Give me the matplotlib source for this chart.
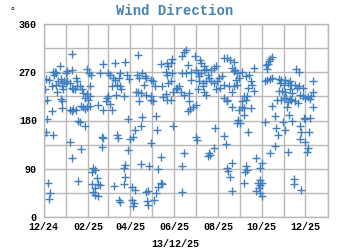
import numpy as np
import matplotlib
matplotlib.use('Agg')
import matplotlib.pyplot as plt
import matplotlib.dates as mdates

# days since 2024-12-01 and wind direction (degrees)
start = np.datetime64('2024-12-01')

days_dec_feb = [40, 83, 23, 61, 63, 66, 40, 33, 31, 13, 15, 17, 14, 79, 90, 93, 96, 3, 8, 24,
                20, 25, 28, 31, 32, 26, 27, 36, 39, 41, 45, 46, 47, 50, 53, 44, 11, 17, 19, 2,
                0, 4, 24, 26, 25, 11, 5, 55, 60, 58, 64, 65, 62, 65, 61, 76, 83, 88, 90, 87,
                93, 95, 36, 39, 41, 45, 52, 55, 58, 48, 51, 58, 3, 0, 13, 81, 83, 81, 36, 52,
                39, 69, 68, 72, 74, 67, 76, 72, 79, 69, 72, 75, 48, 6, 9, 8]
dirs_dec_feb = [305, 286, 281, 277, 269, 266, 275, 272, 269, 270, 271, 269, 266, 269, 269, 266, 259, 258, 256, 258,
                253, 250, 253, 250, 253, 244, 238, 250, 241, 239, 259, 253, 245, 244, 239, 238, 245, 247, 234, 238,
                216, 219, 220, 217, 203, 197, 183, 231, 230, 222, 226, 244, 219, 208, 205, 209, 200, 222, 225, 216,
                211, 244, 200, 197, 201, 200, 208, 205, 201, 180, 178, 170, 159, 153, 153, 149, 147, 130, 139, 126,
                109, 91, 84, 88, 72, 61, 61, 53, 59, 47, 41, 38, 66, 64, 44, 34]

days_mar_jun = [99, 114, 132, 107, 105, 116, 119, 100, 102, 107, 108, 101, 112, 130, 137, 141, 143, 133, 140, 132,
                129, 142, 135, 133, 150, 152, 155, 150, 152, 149, 164, 172, 174, 179, 177, 170, 172, 179, 174, 178,
                165, 170, 167, 172, 177, 181, 184, 186, 191, 188, 193, 195, 193,
                95, 118, 137, 156, 136, 128, 158, 180, 102, 104, 124, 121, 118, 149, 195, 164, 114, 112, 135, 147,
                160, 193, 113, 112, 98, 123, 127, 146, 142, 163, 165, 160, 156, 105, 106, 123, 126, 124, 144, 146,
                154, 193]
dirs_mar_jun = [288, 289, 303, 269, 259, 266, 258, 256, 247, 244, 238, 228, 225, 266, 269, 263, 259, 259, 247, 233,
                234, 228, 231, 216, 256, 253, 245, 219, 216, 225, 286, 288, 281, 295, 288, 270, 266, 269, 250, 253,
                244, 230, 224, 219, 219, 234, 238, 241, 234, 244, 269, 309, 300,
                200, 183, 186, 188, 169, 163, 163, 169, 153, 147, 149, 145, 125, 137, 120, 111, 96, 91, 98, 94,
                89, 94, 75, 62, 57, 55, 50, 49, 47, 64, 61, 56, 44, 31, 28, 31, 26, 20, 30, 22,
                31, 47]

days_jun_sep = [198, 211, 218, 220, 223, 201, 198, 205, 206, 212, 215, 217, 219, 224, 226, 229, 231, 233, 237, 240,
                217, 222, 226, 215, 222, 224, 226, 233, 238, 240, 242, 245, 246, 248, 252, 259, 252, 256, 260, 266,
                263, 267, 265, 269, 273, 277, 282, 287, 294, 289, 291, 294, 285, 283, 279, 277, 282, 276, 273, 279,
                289, 280, 271, 274, 270, 285, 256, 252, 256, 262, 263, 266, 268, 270, 202, 203, 204, 208, 201, 212,
                196, 239, 251, 254, 212, 214, 238, 231, 229, 232, 263, 256, 257, 260, 282, 283, 281, 280, 262]
dirs_jun_sep = [311, 300, 293, 288, 281, 283, 269, 270, 256, 275, 269, 263, 269, 275, 276, 266, 259, 275, 278, 281,
                253, 250, 253, 238, 244, 234, 228, 253, 250, 239, 253, 259, 241, 263, 247, 244, 297, 297, 294, 289,
                278, 275, 272, 269, 259, 270, 263, 266, 278, 253, 247, 236, 241, 226, 225, 216, 219, 205, 200, 203,
                203, 191, 181, 175, 176, 158, 219, 222, 216, 205, 234, 244, 256, 247, 231, 216, 201, 205, 197, 209,
                228, 166, 151, 136, 149, 143, 128, 120, 113, 116, 101, 91, 86, 75, 94, 88, 84, 63, 49]

days_oct_dec = [296, 305, 302, 301, 305, 299, 302, 300, 296, 301, 305,
                319, 316, 314, 313, 310, 311, 352, 356, 308, 311, 316, 319,
                328, 331, 330, 337, 341, 343, 345, 335, 333, 328, 337, 343, 347, 351, 353, 356, 361, 376,
                375, 373, 369, 365, 362, 357, 355, 351, 345, 343, 341, 338, 335, 331, 325, 319, 339, 376, 371,
                322, 308, 334, 342, 347, 324, 327, 336, 358, 359, 363, 365, 371, 370, 357, 365, 369, 367, 323, 316,
                341, 349, 349, 359]
dirs_oct_dec = [109, 100, 91, 69, 64, 63, 59, 53, 49, 44, 39,
                299, 295, 291, 286, 283, 276, 276, 270, 253, 256, 258, 259,
                258, 255, 251, 256, 250, 253, 247, 247, 236, 236, 234, 238, 231, 247, 241, 244, 241, 253,
                234, 225, 224, 222, 225, 228, 213, 216, 219, 220, 214, 222, 222, 219, 218, 208, 205, 205, 220,
                189, 178, 178, 191, 180, 166, 153, 163, 170, 159, 184, 183, 184, 159, 145, 139, 128, 122, 133, 119,
                122, 70, 61, 50]

days = np.array(days_dec_feb + days_mar_jun + days_jun_sep + days_oct_dec)
dirs = np.array(dirs_dec_feb + dirs_mar_jun + dirs_jun_sep + dirs_oct_dec)
dates = (start + days.astype('timedelta64[D]')).astype('datetime64[s]').astype(object)

font = 'Liberation Mono'
grid_col = '#b8b8b8'
mark_col = '#3f7fbf'

fig = plt.figure(figsize=(3.5, 2.5), dpi=100)
ax = fig.add_axes([0.125, 0.133, 0.811, 0.770])

ax.plot(dates, dirs, linestyle='none', marker='+', markersize=5.5,
        markeredgewidth=1.0, color=mark_col)

ax.set_xlim(np.datetime64('2024-12-01').astype(object), np.datetime64('2026-01-01').astype(object))
ax.set_ylim(0, 360)
ax.set_yticks([0, 90, 180, 270, 360])
ax.yaxis.set_minor_locator(matplotlib.ticker.MultipleLocator(45))
ax.xaxis.set_major_locator(mdates.MonthLocator(bymonth=[12, 2, 4, 6, 8, 10]))
ax.xaxis.set_minor_locator(mdates.MonthLocator())
ax.xaxis.set_major_formatter(mdates.DateFormatter('%m/%y'))

ax.grid(True, which='both', color=grid_col, linewidth=1.0)
ax.set_axisbelow(True)
for s in ax.spines.values():
    s.set_color(grid_col)
    s.set_linewidth(1.0)
ax.tick_params(which='both', length=0)
ax.tick_params(axis='y', pad=5)
ax.tick_params(axis='x', pad=4)
for lab in ax.get_xticklabels() + ax.get_yticklabels():
    lab.set_family(font)
    lab.set_weight('bold')
    lab.set_fontsize(7.2)

fig.text(0.5, 0.955, 'Wind Direction', ha='center', va='center', family=font,
         weight='bold', fontsize=10, color='#4682b4')
fig.text(0.5, 0.025, '13/12/25', ha='center', va='center', family=font,
         weight='bold', fontsize=7.2)
fig.text(0.035, 0.955, '°', ha='center', va='center', family=font, fontsize=7)

fig.savefig('out.png', dpi=100)
